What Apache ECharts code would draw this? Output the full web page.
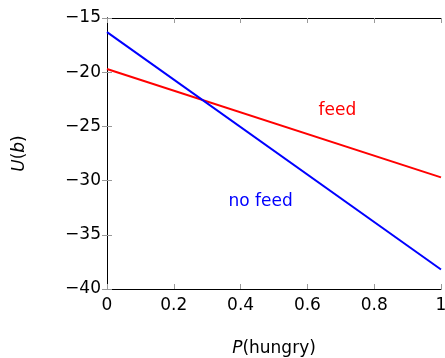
<!DOCTYPE html>
<html>
<head>
<meta charset="utf-8" />
<title>U(b) vs P(hungry)</title>
<script src="https://cdn.jsdelivr.net/npm/echarts@6/dist/echarts.min.js"></script>
<style>
  html, body {margin:0;padding:0;background:#fff;}
  #chart {width:445px;height:358px;}
</style>
</head>
<body>
<div id="chart"></div>
<script>
// data
var pHungry = [0, 1];
var feed = [-19.7, -29.7];
var noFeed = [-16.3, -38.2];
var xTicks = [0, 0.2, 0.4, 0.6, 0.8, 1];
var yTicks = [-40, -35, -30, -25, -20, -15];
var notes = [
  {name: 'feed', x: 0.69, y: -23.5, color: '#ff0000'},
  {name: 'no feed', x: 0.46, y: -31.9, color: '#0000ff'}
];

var font = 'DejaVu Sans';
var tick = {show: true, inside: true, length: 5, lineStyle: {color: '#999', width: 1}};
var frame = {show: true, lineStyle: {color: '#000', width: 1}};

function pairs(ys) {
  return pHungry.map(function (x, i) { return [x, ys[i]]; });
}

var chart = echarts.init(document.getElementById('chart'));
chart.setOption({
  animation: false,
  grid: {left: 107, right: 4, top: 18, bottom: 69, outerBoundsMode: 'none', containLabel: false},
  xAxis: [{
    type: 'value', min: 0, max: 1, interval: 0.2,
    axisLine: frame, axisTick: tick, splitLine: {show: false},
    axisLabel: {color: '#000', fontFamily: font, fontSize: 17, margin: 8,
      formatter: function (v) { return xTicks.indexOf(+v.toFixed(1)) >= 0 ? String(+v.toFixed(1)) : ''; }},
    name: '{i|P}(hungry)', nameLocation: 'middle', nameGap: 51,
    nameTextStyle: {color: '#000', fontFamily: font, fontSize: 17,
      rich: {i: {fontStyle: 'italic', fontFamily: font, fontSize: 17}}}
  }, {
    type: 'value', position: 'top', min: 0, max: 1, interval: 0.2,
    axisLine: frame, axisTick: tick, axisLabel: {show: false}, splitLine: {show: false}
  }],
  yAxis: [{
    type: 'value', min: -40, max: -15, interval: 5,
    axisLine: frame, axisTick: tick, splitLine: {show: false},
    axisLabel: {color: '#000', fontFamily: font, fontSize: 17, margin: 6,
      formatter: function (v) { return yTicks.indexOf(v) >= 0 ? String(v).replace('-', '\u2212') : ''; }},
    name: '{i|U}({i|b})', nameLocation: 'middle', nameGap: 79, nameRotate: 90,
    nameTextStyle: {color: '#000', fontFamily: font, fontSize: 17,
      rich: {i: {fontStyle: 'italic', fontFamily: font, fontSize: 17}}}
  }, {
    type: 'value', position: 'right', min: -40, max: -15, interval: 5,
    axisLine: frame, axisTick: tick, axisLabel: {show: false}, splitLine: {show: false}
  }],
  series: [{
    type: 'line', data: pairs(feed), symbol: 'none',
    lineStyle: {color: '#ff0000', width: 2}
  }, {
    type: 'line', data: pairs(noFeed), symbol: 'none',
    lineStyle: {color: '#0000ff', width: 2}
  }, {
    type: 'scatter', symbolSize: 0, silent: true,
    itemStyle: {opacity: 1},
    data: notes.map(function (n) {
      return {value: [n.x, n.y], label: {show: true, position: 'inside', formatter: n.name,
        color: n.color, opacity: 1, fontFamily: font, fontSize: 17}};
    })
  }]
});
</script>
</body>
</html>
